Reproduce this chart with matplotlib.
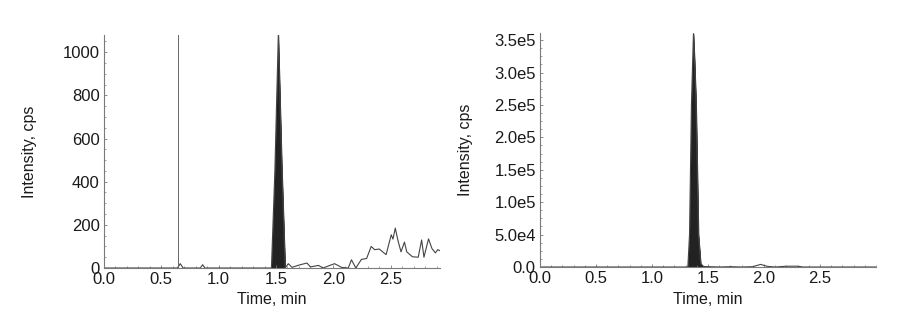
import matplotlib
matplotlib.use("Agg")
import matplotlib.pyplot as plt
from matplotlib.ticker import AutoMinorLocator
import numpy as np

plt.rcParams['font.family'] = ['Liberation Sans', 'DejaVu Sans']

# ---- left chromatogram ----
left_time = [0.00, 0.64, 0.665, 0.69, 0.84, 0.86, 0.88, 1.46, 1.49, 1.52, 1.55, 1.58,
             1.607, 1.64, 1.71, 1.77, 1.80, 1.87, 1.91, 1.97, 2.01, 2.04, 2.07, 2.13,
             2.158, 2.196, 2.245, 2.29, 2.33, 2.36, 2.40, 2.46, 2.505, 2.52, 2.54,
             2.563, 2.59, 2.62, 2.64, 2.69, 2.74, 2.77, 2.79, 2.83, 2.86, 2.89, 2.91, 2.93]
left_int = [0, 0, 20, 0, 0, 15, 0, 0, 450, 1080, 480, 0,
            20, 3, 15, 23, 5, 12, 0, 12, 20, 12, 3, 0,
            38, 0, 40, 44, 100, 85, 88, 62, 154, 134, 185,
            128, 75, 120, 75, 52, 50, 130, 50, 135, 90, 70, 85, 80]
left_peak_window = (1.46, 1.58)
left_marker_time = 0.645
left_yticks = [0, 200, 400, 600, 800, 1000]
left_yticklabels = ["0", "200", "400", "600", "800", "1000"]

# ---- right chromatogram ----
right_time = [0.00, 1.32, 1.335, 1.352, 1.37, 1.38, 1.394, 1.415, 1.435, 1.46, 1.60,
              1.70, 1.80, 1.90, 1.97, 2.03, 2.10, 2.20, 2.30, 2.35, 3.00]
right_int = [0, 0, 5.0e4, 2.5e5, 3.6e5, 3.2e5, 2.5e5, 5.0e4, 5.0e3, 800, 0,
             500, 0, 500, 4000, 1000, 0, 1200, 1200, 0, 0]
right_peak_window = (1.32, 1.46)
right_yticks = [0, 5e4, 1e5, 1.5e5, 2e5, 2.5e5, 3e5, 3.5e5]
right_yticklabels = ["0.0", "5.0e4", "1.0e5", "1.5e5", "2.0e5", "2.5e5", "3.0e5", "3.5e5"]

xticks = [0.0, 0.5, 1.0, 1.5, 2.0, 2.5]
xticklabels = ["0.0", "0.5", "1.0", "1.5", "2.0", "2.5"]

W, H = 901, 324
fig = plt.figure(figsize=(W / 100, H / 100), dpi=100)
axL = fig.add_axes([104 / W, (H - 268) / H, 336 / W, 233 / H])
axR = fig.add_axes([540 / W, (H - 267) / H, 336 / W, 234 / H])

text_color = "#1a1a1a"
spine_color = "#7a7a7a"


def style(ax, yticks, yticklabels, xlim, ylim):
    ax.set_xlim(*xlim)
    ax.set_ylim(*ylim)
    for s in ("top", "right"):
        ax.spines[s].set_visible(False)
    for s in ("left", "bottom"):
        ax.spines[s].set_color(spine_color)
        ax.spines[s].set_linewidth(0.8)
    ax.set_xticks(xticks)
    ax.set_xticklabels(xticklabels)
    ax.set_yticks(yticks)
    ax.set_yticklabels(yticklabels)
    ax.xaxis.set_minor_locator(AutoMinorLocator(5))
    ax.yaxis.set_minor_locator(AutoMinorLocator(4))
    ax.tick_params(axis="both", which="major", direction="in", length=2.5, width=0.6,
                   color=spine_color, pad=3, labelsize=12, labelcolor=text_color)
    ax.tick_params(axis="both", which="minor", direction="in", length=1.5, width=0.5,
                   color=spine_color)
    ax.set_xlabel("Time, min", fontsize=11.5, color=text_color)
    ax.set_ylabel("Intensity, cps", fontsize=11.5, color=text_color)
    ax.xaxis.set_label_coords(0.5, -0.105)
    ax.yaxis.set_label_coords(-0.2, 0.5)


# left
lt = np.array(left_time)
li = np.array(left_int)
axL.plot(lt, li, color="#444444", lw=0.8)
mL = (lt >= left_peak_window[0]) & (lt <= left_peak_window[1])
axL.fill_between(lt[mL], li[mL], 0, color="#222222", lw=0.5, edgecolor="#111111")
axL.axvline(left_marker_time, color="#666666", lw=0.7)
style(axL, left_yticks, left_yticklabels, (0, 2.93), (0, 1080))

# right
rt = np.array(right_time)
ri = np.array(right_int)
axR.plot(rt, ri, color="#444444", lw=0.8)
mR = (rt >= right_peak_window[0]) & (rt <= right_peak_window[1])
axR.fill_between(rt[mR], ri[mR], 0, color="#222222", lw=0.5, edgecolor="#111111")
style(axR, right_yticks, right_yticklabels, (0, 3.0), (0, 3.61e5))

fig.savefig("out.png", dpi=100)
